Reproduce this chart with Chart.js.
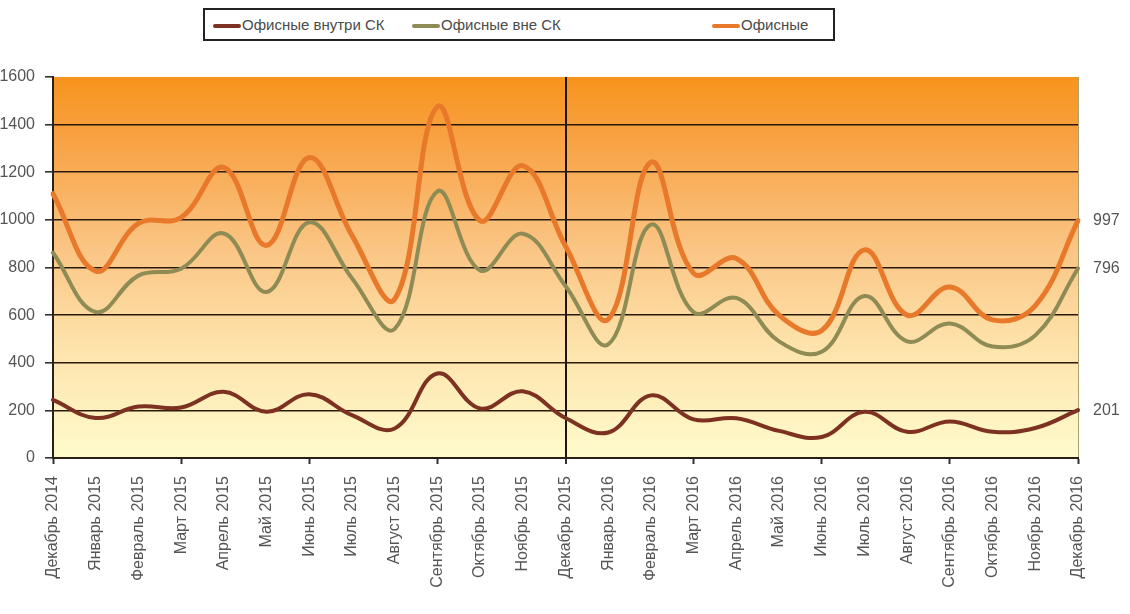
<!DOCTYPE html>
<html>
<head>
<meta charset="utf-8">
<script src="https://cdn.jsdelivr.net/npm/chart.js@4/dist/chart.umd.min.js"></script>
<style>
  body { margin: 0; background: #fff; }
  #wrap { position: relative; width: 1130px; height: 614px; overflow: hidden; font-family: "Liberation Sans", Arial, sans-serif; }
  #chart { position: absolute; left: 0; top: 0; }
  .legend { position: absolute; left: 203px; top: 8px; width: 628px; height: 29px; border: 2px solid #222; background: #fff; }
  .item { position: absolute; top: 0; height: 29px; line-height: 29px; font-size: 15px; color: #4a4a4a; white-space: nowrap; }
  .item i { display: inline-block; width: 28px; height: 4px; border-radius: 2px; vertical-align: middle; margin-right: 1px; }
</style>
</head>
<body>
<div id="wrap">
  <canvas id="chart" width="1130" height="614"></canvas>
  <div class="legend">
    <span class="item" style="left:8px"><i style="background:#7c3121"></i>Офисные внутри СК</span>
    <span class="item" style="left:207px"><i style="background:#8e8b55"></i>Офисные вне СК</span>
    <span class="item" style="left:507px"><i style="background:#e8782a"></i>Офисные</span>
  </div>
</div>
<script>
// месяцы
const months = [
  'Декабрь 2014', 'Январь 2015', 'Февраль 2015', 'Март 2015', 'Апрель 2015', 'Май 2015',
  'Июнь 2015', 'Июль 2015', 'Август 2015', 'Сентябрь 2015', 'Октябрь 2015', 'Ноябрь 2015',
  'Декабрь 2015', 'Январь 2016', 'Февраль 2016', 'Март 2016', 'Апрель 2016', 'Май 2016',
  'Июнь 2016', 'Июль 2016', 'Август 2016', 'Сентябрь 2016', 'Октябрь 2016', 'Ноябрь 2016',
  'Декабрь 2016'
];

const insideSK = [244, 168, 216, 212, 278, 194, 268, 180, 124, 355, 208, 280,
  168, 107, 263, 162, 167, 114, 88, 194, 110, 153, 110, 126, 201];
const outsideSK = [862, 613, 766, 795, 943, 697, 990, 755, 542, 1120, 788, 942,
  722, 477, 980, 612, 672, 490, 446, 680, 490, 565, 468, 515, 796];
const offices = [1110, 785, 985, 1010, 1220, 893, 1262, 935, 667, 1475, 997, 1228,
  890, 583, 1242, 775, 838, 600, 535, 874, 600, 718, 580, 640, 997];

const yTicks = [0, 200, 400, 600, 800, 1000, 1200, 1400, 1600];

const bgPlugin = {
  id: 'bg',
  beforeDraw(chart) {
    const { ctx, chartArea: a } = chart;
    const g = ctx.createLinearGradient(0, a.top, 0, a.bottom);
    g.addColorStop(0, '#f7941c');
    g.addColorStop(0.15, '#f8a040');
    g.addColorStop(0.45, '#fac584');
    g.addColorStop(0.7, '#fde2aa');
    g.addColorStop(1, '#fffbcc');
    ctx.save();
    ctx.fillStyle = g;
    ctx.fillRect(a.left, a.top, a.right - a.left, a.bottom - a.top);
    ctx.restore();
  }
};

const endLabels = {
  id: 'endLabels',
  afterDatasetsDraw(chart) {
    const { ctx, chartArea: a } = chart;
    ctx.save();
    ctx.font = '16px "Liberation Sans", Arial, sans-serif';
    ctx.fillStyle = '#555';
    ctx.textBaseline = 'middle';
    chart.data.datasets.forEach((ds, i) => {
      const pts = chart.getDatasetMeta(i).data;
      const last = pts[pts.length - 1];
      ctx.fillText(String(ds.data[ds.data.length - 1]), a.right + 15, last.y);
    });
    ctx.restore();
  }
};

new Chart(document.getElementById('chart'), {
  type: 'line',
  data: {
    labels: months,
    datasets: [
      { label: 'Офисные внутри СК', data: insideSK, borderColor: '#7c3121', borderWidth: 4 },
      { label: 'Офисные вне СК', data: outsideSK, borderColor: '#8e8b55', borderWidth: 4 },
      { label: 'Офисные', data: offices, borderColor: '#e8782a', borderWidth: 5 }
    ]
  },
  options: {
    responsive: false,
    animation: false,
    layout: { padding: { top: 77, right: 52, left: 0, bottom: 0 } },
    elements: {
      line: { tension: 0.4, fill: false, borderCapStyle: 'round' },
      point: { radius: 0 }
    },
    plugins: { legend: { display: false }, tooltip: { enabled: false } },
    scales: {
      x: {
        afterFit: (s) => { s.height = 156; },
        border: { color: '#2b2015', width: 2 },
        grid: {
          drawOnChartArea: true,
          tickLength: 6,
          color: (c) => c.index === 12 ? '#1e140c' : (c.index === 24 ? '#a8a070' : 'rgba(0,0,0,0)'),
          lineWidth: (c) => c.index === 12 ? 2 : 1,
          tickColor: (c) => c.index % 3 === 0 ? '#333' : 'rgba(0,0,0,0)',
          tickWidth: 2
        },
        ticks: {
          autoSkip: false,
          maxRotation: 90,
          minRotation: 90,
          padding: 12,
          color: '#555',
          font: { size: 16, family: '"Liberation Sans", Arial, sans-serif' }
        }
      },
      y: {
        min: 0,
        max: 1600,
        afterFit: (s) => { s.width = 53; },
        afterBuildTicks: (s) => { s.ticks = yTicks.map(v => ({ value: v })); },
        border: { color: '#2b2015', width: 2 },
        grid: {
          tickLength: 8,
          color: (c) => (c.tick && (c.tick.value === 0 || c.tick.value === 1600)) ? 'rgba(0,0,0,0)' : '#2a1a0e',
          tickColor: '#333',
          lineWidth: 1.6
        },
        ticks: {
          padding: 10,
          color: '#555',
          callback: (v) => String(v),
          font: { size: 16, family: '"Liberation Sans", Arial, sans-serif' }
        }
      }
    }
  },
  plugins: [bgPlugin, endLabels]
});
</script>
</body>
</html>
